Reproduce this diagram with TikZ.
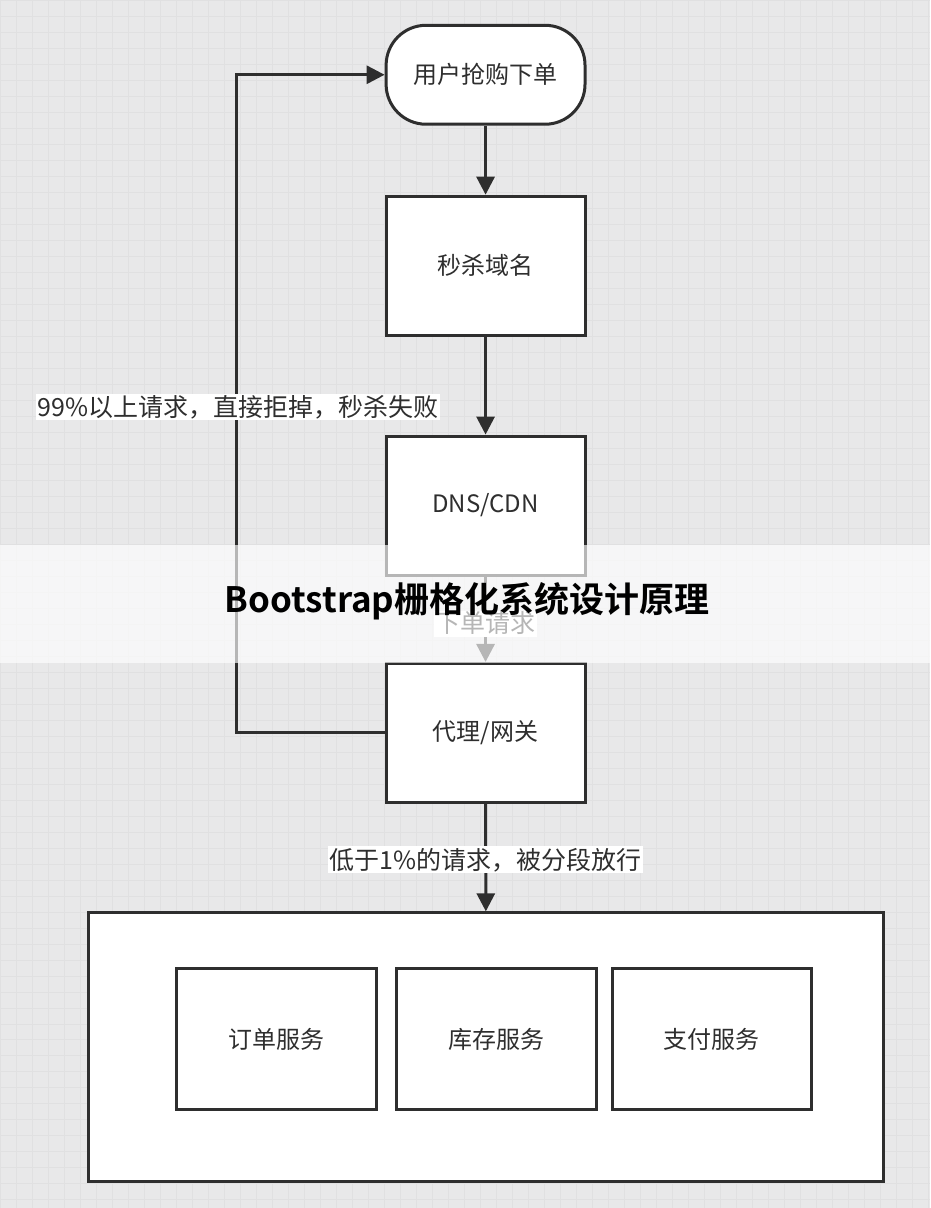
\documentclass[tikz,border=0pt]{standalone}
\usepackage{fontspec}
\setmainfont{Noto Sans CJK SC}[BoldFont={Noto Sans CJK SC Bold}]
\usetikzlibrary{arrows.meta}
\definecolor{bg}{HTML}{E8E8E9}
\definecolor{gridc}{HTML}{E0E0E1}
\definecolor{ln}{HTML}{2E2E2E}
\begin{document}
\begin{tikzpicture}[x=1pt,y=-1pt,
  box/.style={draw=ln,line width=3pt,fill=white,minimum width=199pt,minimum height=139pt,font=\fontsize{24}{27}\selectfont,text=ln},
  sbox/.style={draw=ln,line width=3pt,fill=white,minimum width=200pt,minimum height=141pt,font=\fontsize{24}{27}\selectfont,text=ln},
  arr/.style={draw=ln,line width=3pt,-{Triangle[length=18pt,width=18pt]}},
  lbl/.style={fill=white,inner sep=1.5pt,font=\fontsize{25}{28}\selectfont,text=ln}]
\fill[bg] (0,0) rectangle (930,1208);
\draw[gridc,line width=0.6pt,step=16pt] (0,0) grid (930,1208);
\useasboundingbox (0,0) rectangle (930,1208);
\node[box,rounded corners=40pt,minimum height=99pt] (start) at (485.5,74.5) {用户抢购下单};
\node[box] (dom) at (485.5,265.5) {秒杀域名};
\node[box] (dns) at (485.5,505.5) {DNS/CDN};
\node[box] (gw) at (485.5,733) {代理/网关};
\node[draw=ln,line width=3pt,fill=white,minimum width=796pt,minimum height=269pt] (big) at (486,1047.5) {};
\node[sbox] (s1) at (276,1039.5) {订单服务};
\node[sbox] (s2) at (496,1039.5) {库存服务};
\node[sbox] (s3) at (712,1039.5) {支付服务};
\draw[arr] (start) -- (dom);
\draw[arr] (dom) -- (dns);
\draw[arr] (dns) -- node[lbl,pos=0.55]{下单请求} (gw);
\draw[arr] (gw) -- node[lbl,pos=0.52]{低于1\%的请求，被分段放行} (big);
\coordinate (c1) at (236,733);
\coordinate (c2) at (236,74.5);
\draw[arr] (gw.west) -- (c1) -- (c2) -- (start.west);
\node[lbl] at (238,407) {99\%以上请求，直接拒掉，秒杀失败};
\fill[white,opacity=0.65] (0,545) rectangle (930,663);
\node[font=\bfseries\fontsize{35}{40}\selectfont,text=black] (title) at (467,601) {Bootstrap栅格化系统设计原理};
\end{tikzpicture}
\end{document}
